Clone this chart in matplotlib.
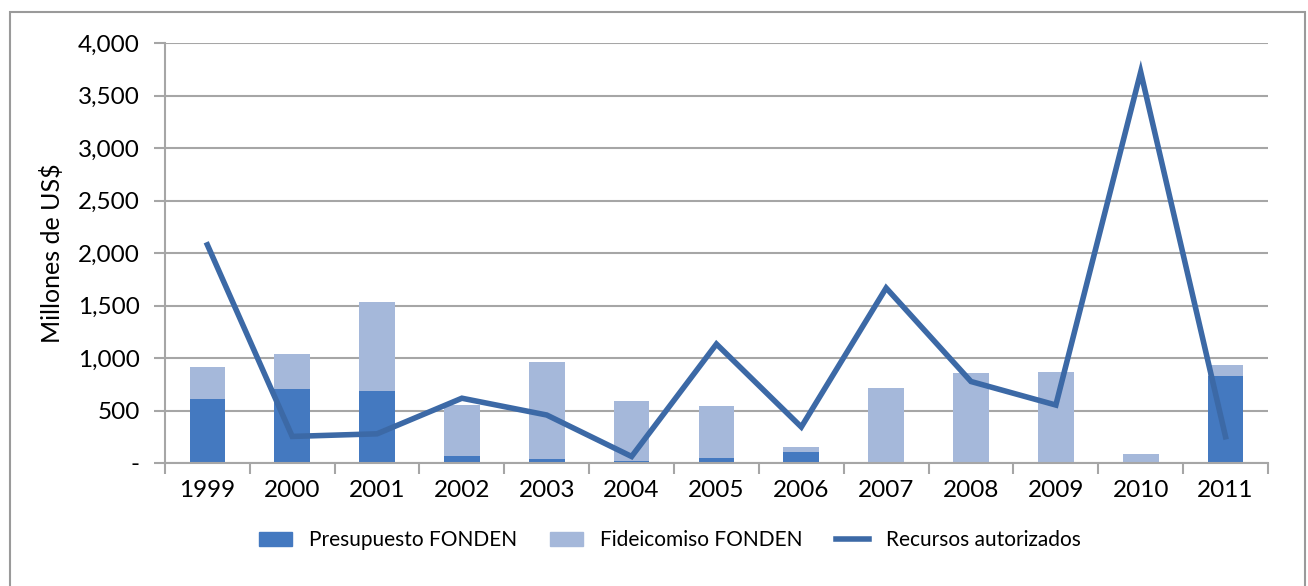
import matplotlib
matplotlib.use("Agg")
import matplotlib.pyplot as plt
from matplotlib.lines import Line2D
from matplotlib.patches import Patch, Rectangle
from matplotlib.ticker import FuncFormatter, FixedLocator

years = ["1999", "2000", "2001", "2002", "2003", "2004", "2005",
         "2006", "2007", "2008", "2009", "2010", "2011"]
presupuesto = [608, 708, 682, 67, 38, 20, 50, 105, 0, 0, 0, 0, 829]
fideicomiso = [310, 332, 850, 485, 928, 566, 497, 50, 714, 857, 867, 86, 104]
recursos = [2078, 253, 278, 617, 457, 62, 1133, 343, 1667, 776, 552, 3724, 250]

DARK = "#4479C0"
LIGHT = "#A5B8DA"
LINE = "#3C69A6"
GRID = "#A6A6A6"

plt.rcParams["font.family"] = ["Lato", "DejaVu Sans"]

fig = plt.figure(figsize=(13.08, 5.86), dpi=100)
fig.patches.append(Rectangle((0.008, -0.01), 0.99, 0.99, transform=fig.transFigure,
                             fill=False, edgecolor="#9A9A9A", linewidth=1.5))
ax = fig.add_axes([0.1261, 0.2099, 0.8433, 0.7167])

x = range(len(years))
ax.bar(x, presupuesto, width=0.42, color=DARK, zorder=2)
ax.bar(x, fideicomiso, width=0.42, bottom=presupuesto, color=LIGHT, zorder=2)
ax.plot(x, recursos, color=LINE, linewidth=4, zorder=3, solid_joinstyle="miter")

ax.set_xlim(-0.5, len(years) - 0.5)
ax.set_ylim(0, 4000)
ax.set_yticks(range(0, 4001, 500))
ax.yaxis.set_major_formatter(FuncFormatter(lambda v, p: "-" if v == 0 else f"{int(v):,}"))
ax.yaxis.grid(True, color=GRID, linewidth=1.5, zorder=0)
ax.set_axisbelow(True)

ax.set_xticks(list(x))
ax.set_xticklabels(years)
ax.xaxis.set_minor_locator(FixedLocator([i - 0.5 for i in range(len(years) + 1)]))
ax.tick_params(axis="x", which="major", length=0, labelsize=17.5, pad=12)
ax.tick_params(axis="x", which="minor", length=8, width=1.5, color=GRID)
ax.tick_params(axis="y", length=8, width=1.5, color=GRID, labelsize=17.5, pad=10)

for s in ["top", "right"]:
    ax.spines[s].set_visible(False)
for s in ["left", "bottom"]:
    ax.spines[s].set_color(GRID)
    ax.spines[s].set_linewidth(1.5)

ax.set_ylabel("Millones de US$", fontsize=18, labelpad=10)

handles = [Patch(color=DARK), Patch(color=LIGHT), Line2D([], [], color=LINE, linewidth=4)]
labels = ["Presupuesto FONDEN", "Fideicomiso FONDEN", "Recursos autorizados"]
fig.legend(handles, labels, loc="center", bbox_to_anchor=(0.512, 0.078), ncol=3,
           frameon=False, fontsize=15, handlelength=1.6, columnspacing=1.6)

fig.savefig("out.png", dpi=100)
